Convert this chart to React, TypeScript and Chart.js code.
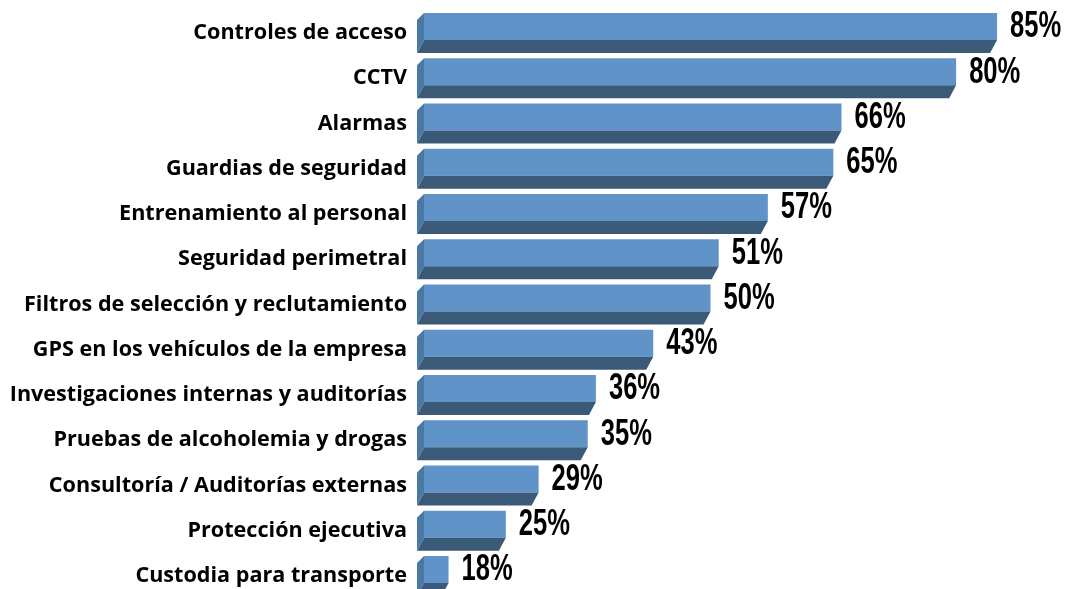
import React, { useEffect, useRef } from "react";
import { Chart, registerables } from "chart.js";

Chart.register(...registerables);

const categories = [
  "Controles de acceso",
  "CCTV",
  "Alarmas",
  "Guardias de seguridad",
  "Entrenamiento al personal",
  "Seguridad perimetral",
  "Filtros de selección y reclutamiento",
  "GPS en los vehículos de la empresa",
  "Investigaciones internas y auditorías",
  "Pruebas de alcoholemia y drogas",
  "Consultoría / Auditorías externas",
  "Protección ejecutiva",
  "Custodia para transporte",
];
const values = [85, 80, 66, 65, 57, 51, 50, 43, 36, 35, 29, 25, 18];

const FRONT = "#6094c8";
const BOTTOM = "#3b5a78";
const SIDE = "#4a78a5";

const bar3d = {
  id: "bar3d",
  afterDatasetsDraw(chart: any) {
    const ctx = chart.ctx;
    const meta = chart.getDatasetMeta(0);
    const depth = 7;
    meta.data.forEach((el: any, i: number) => {
      const p = el.getProps(["x", "y", "base", "height"], true);
      const top = p.y - p.height / 2;
      const bottom = p.y + p.height / 2;
      const mid = bottom - 13;
      const x0 = p.base;
      const x1 = p.x;
      ctx.save();
      ctx.fillStyle = FRONT;
      ctx.fillRect(x0, top, x1 - x0, mid - top);
      ctx.fillStyle = BOTTOM;
      ctx.beginPath();
      ctx.moveTo(x0, mid);
      ctx.lineTo(x1, mid);
      ctx.lineTo(x1 - depth, bottom);
      ctx.lineTo(x0 - depth, bottom);
      ctx.closePath();
      ctx.fill();
      ctx.fillStyle = SIDE;
      ctx.beginPath();
      ctx.moveTo(x0 - depth, top + depth);
      ctx.lineTo(x0, top);
      ctx.lineTo(x0, mid);
      ctx.lineTo(x0 - depth, bottom);
      ctx.closePath();
      ctx.fill();
      const label = values[i] + "%";
      ctx.fillStyle = "#000";
      ctx.font = "bold 36px 'Liberation Sans', sans-serif";
      ctx.textBaseline = "middle";
      ctx.textAlign = "left";
      ctx.translate(x1 + 13, (top + mid) / 2 + 1);
      ctx.scale(0.71, 1);
      ctx.fillText(label, 0, 0);
      ctx.restore();
    });
  },
};

export default function App() {
  const ref = useRef<HTMLCanvasElement | null>(null);
  useEffect(() => {
    if (!ref.current) return;
    const chart = new Chart(ref.current, {
      type: "bar",
      data: {
        labels: categories,
        datasets: [
          {
            data: values,
            base: 15,
            backgroundColor: "rgba(0,0,0,0)",
            borderWidth: 0,
            barThickness: 40,
          },
        ],
      },
      options: {
        indexAxis: "y",
        responsive: false,
        animation: false,
        layout: { padding: { top: 33, bottom: 13, left: 0, right: 32 } },
        plugins: { legend: { display: false }, tooltip: { enabled: false } },
        scales: {
          x: { display: false, min: 15, max: 90 },
          y: {
            offset: false,
            grid: { display: false },
            border: { display: false },
            ticks: {
              padding: 9,
              autoSkip: false,
              color: "#000",
              font: { family: "'Open Sans', sans-serif", weight: "bold", size: 21.6 },
            },
            afterFit(scale: any) {
              scale.width = 424;
              scale.paddingTop = 0;
              scale.paddingBottom = 0;
            },
          },
        },
      },
      plugins: [bar3d],
    });
    return () => chart.destroy();
  }, []);
  return (
    <div style={{ position: "fixed", left: 0, top: 0, width: 1070, height: 589, background: "#fff" }}>
      <canvas ref={ref} width={1070} height={589} />
    </div>
  );
}
